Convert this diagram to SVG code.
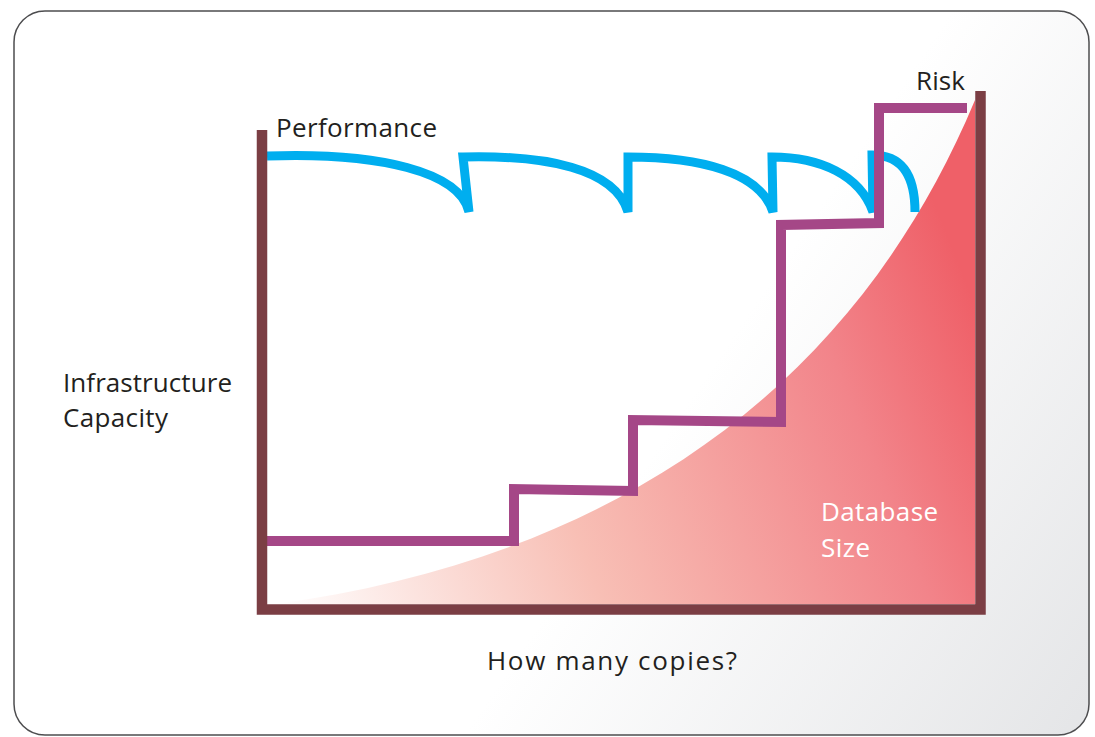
<svg xmlns="http://www.w3.org/2000/svg" width="1095" height="737" viewBox="0 0 1095 737">
<defs>
<linearGradient id="bg" x1="14" y1="11" x2="1089" y2="735" gradientUnits="userSpaceOnUse">
<stop offset="0" stop-color="#ffffff"/>
<stop offset="0.6" stop-color="#ffffff"/>
<stop offset="1" stop-color="#e4e5e7"/>
</linearGradient>
<linearGradient id="red" x1="280" y1="610" x2="985" y2="330" gradientUnits="userSpaceOnUse">
<stop offset="0" stop-color="#ffffff"/>
<stop offset="0.4" stop-color="#f8bfb5"/>
<stop offset="0.8" stop-color="#f2848a"/>
<stop offset="1" stop-color="#ef6068"/>
</linearGradient>
<style>
.lbl{font-family:"Open Sans","Liberation Sans",sans-serif;font-size:26px;fill:#231f20}
.wlbl{font-family:"Open Sans","Liberation Sans",sans-serif;font-size:26px;fill:#ffffff}
.axis{fill:none;stroke:#7b3e44;stroke-width:10.5;stroke-linecap:butt;stroke-linejoin:miter}
.perf{fill:none;stroke:#00aeef;stroke-width:9;stroke-linejoin:miter}
.risk{fill:none;stroke:#a54787;stroke-width:10;stroke-linejoin:miter}
</style>
</defs>
<rect id="frame" x="14" y="11" width="1075" height="724" rx="31" ry="31" fill="url(#bg)" stroke="#4d4d4f" stroke-width="1.5"/>
<g id="database-size">
<path d="M275,604 C600,560 850,400 975,100 L975,604 Z" fill="url(#red)"/>
<text class="wlbl" x="821" y="521" textLength="117" lengthAdjust="spacing">Database</text>
<text class="wlbl" x="821" y="557" textLength="49" lengthAdjust="spacing">Size</text>
</g>
<g id="performance">
<path class="perf" d="M267,156 C380,152 460,172 469,212 L463,157 C545,155 615,168 628,212 L628,157 C700,157 760,172 773,212 L772,157 C820,157 860,175 873,212 L872,155 C905,155 915,180 915,212"/>
<text class="lbl" x="276" y="137" textLength="161" lengthAdjust="spacing">Performance</text>
</g>
<g id="risk">
<path class="risk" d="M267,541 L514,541 L514,489 L633,491 L633,420 L781,422 L781,225 L879,223 L879,108 L967,108"/>
<text class="lbl" x="916" y="90" textLength="49" lengthAdjust="spacing">Risk</text>
</g>
<g id="axes">
<path class="axis" d="M262,130 V609.5 H980.5 V91"/>
</g>
<g id="labels">
<text class="lbl" x="63" y="392" textLength="169" lengthAdjust="spacing">Infrastructure</text>
<text class="lbl" x="63" y="427" textLength="105" lengthAdjust="spacing">Capacity</text>
<text class="lbl" x="487" y="670" textLength="250" lengthAdjust="spacing">How many copies?</text>
</g>
</svg>
